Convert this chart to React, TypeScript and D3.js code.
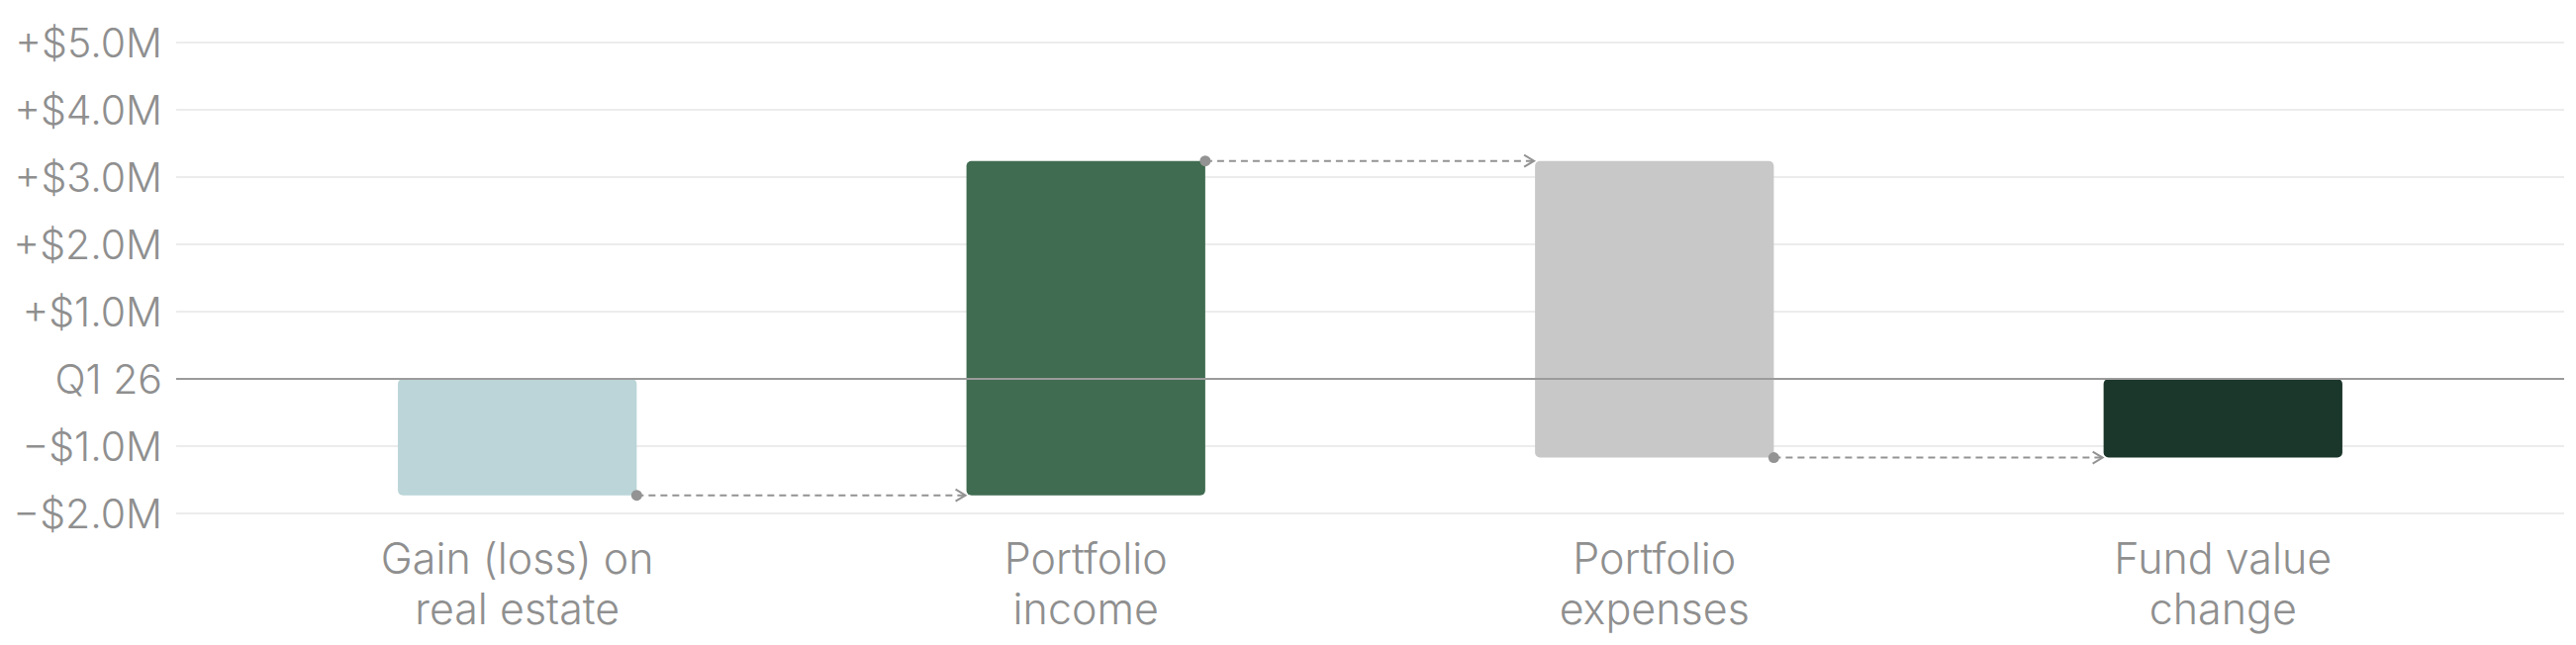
import { useEffect, useRef } from "react";
import * as d3 from "d3";

// waterfall steps, $M
const categories = ["Gain (loss) on real estate", "Portfolio income", "Portfolio expenses", "Fund value change"];
const categoryLines = [["Gain (loss) on", "real estate"], ["Portfolio", "income"], ["Portfolio", "expenses"], ["Fund value", "change"]];
const deltas = [-1.73, 4.97, -4.41];
const total = -1.17;
const barColors = ["#bbd5d8", "#406c51", "#c8c8c8", "#1b362b"];
const yTicks = [5, 4, 3, 2, 1, 0, -1, -2];

const W = 2603;
const H = 652;

function fmt(v: number) {
    if (v === 0) return "Q1 26";
    return (v > 0 ? "+" : "\u2212") + "$" + Math.abs(v).toFixed(1) + "M";
}

export default function App() {
    const svgRef = useRef<SVGSVGElement>(null);

    useEffect(() => {
        document.body.style.margin = "0";
        if (!svgRef.current) return;
        const svg = d3.select(svgRef.current);
        svg.selectAll("*").remove();

        const left = 178, right = 2591;
        const x = d3.scaleBand<string>()
            .domain(categories)
            .range([left, right])
            .paddingInner(0.58)
            .paddingOuter(0.39);
        const y = d3.scaleLinear().domain([-2, 5]).range([519, 43]);

        // build steps
        const bars: { name: string; y0: number; y1: number; color: string }[] = [];
        let run = 0;
        deltas.forEach((d, i) => {
            bars.push({ name: categories[i], y0: run, y1: run + d, color: barColors[i] });
            run += d;
        });
        bars.push({ name: categories[3], y0: 0, y1: total, color: barColors[3] });

        const textColor = "#8f8f8f";
        const font = "Inter, 'Noto Sans', sans-serif";

        // grid
        const grid = svg.append("g");
        grid.selectAll("line")
            .data(yTicks.filter(t => t !== 0))
            .join("line")
            .attr("x1", left).attr("x2", right)
            .attr("y1", d => y(d)).attr("y2", d => y(d))
            .attr("stroke", "#ececec")
            .attr("stroke-width", 2);

        // tick labels
        svg.append("g")
            .selectAll("text")
            .data(yTicks)
            .join("text")
            .attr("x", 164)
            .attr("y", d => y(d))
            .attr("dy", "0.36em")
            .attr("text-anchor", "end")
            .attr("font-family", font)
            .attr("font-weight", 300)
            .attr("font-size", 41)
            .attr("fill", textColor)
            .text(d => fmt(d));

        // bars
        svg.append("g")
            .selectAll("rect")
            .data(bars)
            .join("rect")
            .attr("x", d => x(d.name)!)
            .attr("width", x.bandwidth())
            .attr("y", d => y(Math.max(d.y0, d.y1)))
            .attr("height", d => Math.abs(y(d.y0) - y(d.y1)))
            .attr("rx", 5)
            .attr("fill", d => d.color);

        // zero line
        svg.append("line")
            .attr("x1", left).attr("x2", right)
            .attr("y1", y(0)).attr("y2", y(0))
            .attr("stroke", "#9b9b9b")
            .attr("stroke-width", 2);

        // connectors
        const conn = svg.append("g");
        for (let i = 0; i < bars.length - 1; i++) {
            const level = bars[i].y1;
            const x1 = x(bars[i].name)! + x.bandwidth();
            const x2 = x(bars[i + 1].name)!;
            const yy = y(level);
            conn.append("line")
                .attr("x1", x1).attr("x2", x2 - 2)
                .attr("y1", yy).attr("y2", yy)
                .attr("stroke", "#939393")
                .attr("stroke-width", 2)
                .attr("stroke-dasharray", "7,5");
            conn.append("circle")
                .attr("cx", x1).attr("cy", yy).attr("r", 5.5)
                .attr("fill", "#939393");
            conn.append("path")
                .attr("d", `M${x2 - 11},${yy - 6}L${x2 - 1},${yy}L${x2 - 11},${yy + 6}`)
                .attr("fill", "none")
                .attr("stroke", "#939393")
                .attr("stroke-width", 2);
        }

        // category labels
        const labels = svg.append("g");
        categories.forEach((c, i) => {
            const t = labels.append("text")
                .attr("x", x(c)! + x.bandwidth() / 2)
                .attr("y", 580)
                .attr("text-anchor", "middle")
                .attr("font-family", font)
                .attr("font-weight", 300)
                .attr("font-size", 43)
                .attr("fill", textColor);
            categoryLines[i].forEach((line, j) => {
                t.append("tspan")
                    .attr("x", x(c)! + x.bandwidth() / 2)
                    .attr("dy", j === 0 ? 0 : 51)
                    .text(line);
            });
        });
    }, []);

    return <svg ref={svgRef} width={W} height={H} style={{ display: "block", background: "#fff" }} />;
}
